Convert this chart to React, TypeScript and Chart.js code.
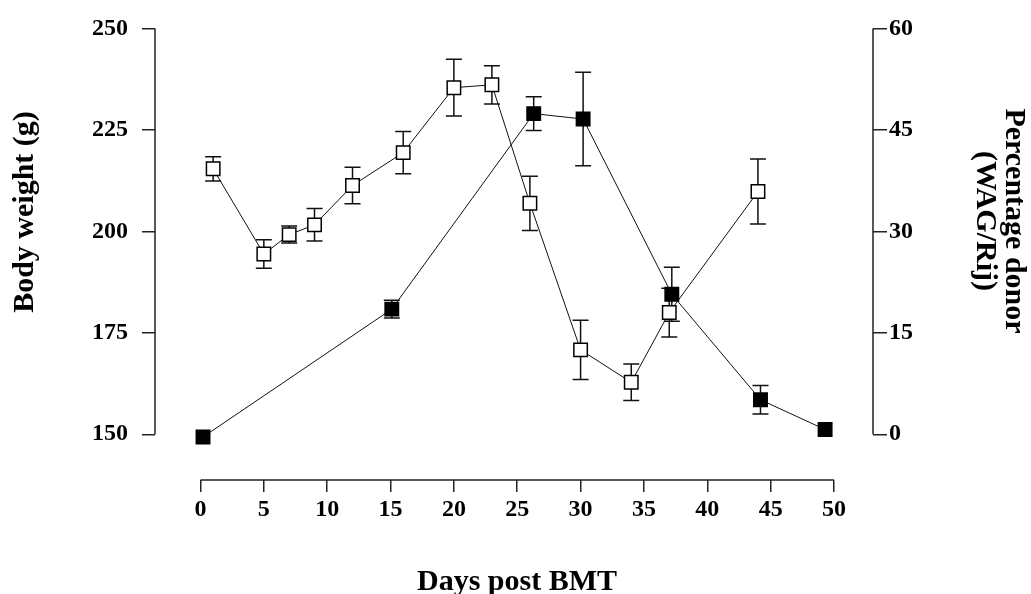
import React, { useEffect, useRef } from 'react';
import { Chart, registerables } from 'chart.js';

Chart.register(...registerables);

// ---- Data ----
const weightDays = [1, 5, 7, 9, 12, 16, 20, 23, 26, 30, 34, 37, 44];
const weightValues = [215.4, 194.4, 199.2, 201.6, 211.3, 219.4, 235.4, 236.1, 206.9, 170.8, 162.8, 180.0, 209.8];
const weightErrors = [3, 3.5, 2.1, 4, 4.5, 5.2, 7, 4.7, 6.7, 7.3, 4.5, 6, 8];

const donorDays = [0.2, 15.1, 26.3, 30.2, 37.2, 44.2, 49.3];
const donorValues = [-0.4, 18.5, 47.4, 46.6, 20.7, 5.1, 0.7];
const donorErrors = [0, 1.3, 2.5, 6.9, 4, 2.1, 0];

const xTicks = [0, 5, 10, 15, 20, 25, 30, 35, 40, 45, 50];
const weightTicks = [150, 175, 200, 225, 250];
const donorTicks = [0, 15, 30, 45, 60];

const xTitle = 'Days post BMT';
const leftTitle = 'Body weight (g)';
const rightTitleLines = ['Percentage donor', '(WAG/Rij)'];

const FONT = '"Liberation Serif", "Times New Roman", serif';
const AXIS_COLOR = '#222';

const customPlugin = {
  id: 'customAxesAndErrors',
  beforeDatasetsDraw(chart: any) {
    const { ctx, chartArea, scales } = chart;
    const x = scales.x;
    const y = scales.y;
    const y1 = scales.y1;
    ctx.save();
    ctx.strokeStyle = AXIS_COLOR;
    ctx.lineWidth = 1.5;
    ctx.beginPath();
    ctx.moveTo(x.getPixelForValue(xTicks[0]), chartArea.bottom);
    ctx.lineTo(x.getPixelForValue(xTicks[xTicks.length - 1]), chartArea.bottom);
    ctx.moveTo(chartArea.left, y.getPixelForValue(weightTicks[0]));
    ctx.lineTo(chartArea.left, y.getPixelForValue(weightTicks[weightTicks.length - 1]));
    ctx.moveTo(chartArea.right, y1.getPixelForValue(donorTicks[0]));
    ctx.lineTo(chartArea.right, y1.getPixelForValue(donorTicks[donorTicks.length - 1]));
    ctx.stroke();

    // error bars
    ctx.strokeStyle = '#111';
    ctx.lineWidth = 1.5;
    const cap = 8;
    const drawErr = (days: number[], vals: number[], errs: number[], sc: any) => {
      ctx.beginPath();
      for (let i = 0; i < days.length; i++) {
        if (!errs[i]) continue;
        const px = x.getPixelForValue(days[i]);
        const top = sc.getPixelForValue(vals[i] + errs[i]);
        const bot = sc.getPixelForValue(vals[i] - errs[i]);
        ctx.moveTo(px, top);
        ctx.lineTo(px, bot);
        ctx.moveTo(px - cap, top);
        ctx.lineTo(px + cap, top);
        ctx.moveTo(px - cap, bot);
        ctx.lineTo(px + cap, bot);
      }
      ctx.stroke();
    };
    drawErr(weightDays, weightValues, weightErrors, y);
    drawErr(donorDays, donorValues, donorErrors, y1);
    ctx.restore();
  },
  afterDraw(chart: any) {
    const { ctx } = chart;
    ctx.save();
    ctx.fillStyle = '#000';
    ctx.font = `bold 30px ${FONT}`;
    ctx.textAlign = 'center';
    ctx.textBaseline = 'alphabetic';
    // x title
    ctx.fillText(xTitle, 517, 590);
    // left title
    ctx.save();
    ctx.translate(33, 212);
    ctx.rotate(-Math.PI / 2);
    ctx.fillText(leftTitle, 0, 0);
    ctx.restore();
    // right title
    const rx = [1006, 977];
    rightTitleLines.forEach((line, i) => {
      ctx.save();
      ctx.translate(rx[i], 221);
      ctx.rotate(Math.PI / 2);
      ctx.fillText(line, 0, 0);
      ctx.restore();
    });
    ctx.restore();
  },
};

export default function App() {
  const ref = useRef<HTMLCanvasElement | null>(null);

  useEffect(() => {
    document.body.style.margin = '0';
    if (!ref.current) return;
    const tickFont = { family: FONT, size: 24, weight: 'bold' as const };
    const chart = new Chart(ref.current, {
      type: 'scatter',
      data: {
        datasets: [
          {
            label: 'Percentage donor',
            data: donorDays.map((d, i) => ({ x: d, y: donorValues[i] })),
            yAxisID: 'y1',
            showLine: true,
            borderColor: '#111',
            borderWidth: 1,
            pointStyle: 'rect',
            pointRadius: 9.5,
            pointBorderWidth: 1.5,
            pointBorderColor: '#000',
            pointBackgroundColor: '#000',
          },
          {
            label: 'Body weight',
            data: weightDays.map((d, i) => ({ x: d, y: weightValues[i] })),
            yAxisID: 'y',
            showLine: true,
            borderColor: '#111',
            borderWidth: 1,
            pointStyle: 'rect',
            pointRadius: 9.5,
            pointBorderWidth: 1.5,
            pointBorderColor: '#000',
            pointBackgroundColor: '#fff',
          },
        ],
      },
      options: {
        animation: false,
        responsive: false,
        layout: { padding: { top: 25.5, left: 0, right: 0, bottom: 0 } },
        plugins: { legend: { display: false }, tooltip: { enabled: false } },
        scales: {
          x: {
            type: 'linear',
            position: 'bottom',
            min: -3.59,
            max: 53.08,
            afterBuildTicks: (s: any) => { s.ticks = xTicks.map((v) => ({ value: v })); },
            afterFit: (s: any) => { s.height = 114; },
            border: { display: false },
            grid: { drawOnChartArea: false, drawTicks: true, tickLength: 12, tickColor: AXIS_COLOR, lineWidth: 1.5 },
            ticks: { autoSkip: false, maxRotation: 0, padding: 3, color: '#000', font: tickFont, callback: (v: any) => String(v) },
          },
          y: {
            type: 'linear',
            position: 'left',
            min: 138.74,
            max: 250,
            afterBuildTicks: (s: any) => { s.ticks = weightTicks.map((v) => ({ value: v })); },
            afterFit: (s: any) => { s.width = 155; },
            border: { display: false },
            grid: { drawOnChartArea: false, drawTicks: true, tickLength: 13, tickColor: AXIS_COLOR, lineWidth: 1.5 },
            ticks: { autoSkip: false, padding: 14, color: '#000', font: tickFont, callback: (v: any) => String(v) },
          },
          y1: {
            type: 'linear',
            position: 'right',
            min: -6.76,
            max: 60,
            afterBuildTicks: (s: any) => { s.ticks = donorTicks.map((v) => ({ value: v })); },
            afterFit: (s: any) => { s.width = 158; },
            border: { display: false },
            grid: { drawOnChartArea: false, drawTicks: true, tickLength: 14, tickColor: AXIS_COLOR, lineWidth: 1.5 },
            ticks: { autoSkip: false, padding: 2, color: '#000', font: tickFont, callback: (v: any) => String(v) },
          },
        },
      },
      plugins: [customPlugin],
    });
    return () => chart.destroy();
  }, []);

  return (
    <div style={{ width: 1031, height: 594, background: '#fff' }}>
      <canvas ref={ref} width={1031} height={594} style={{ display: 'block' }} />
    </div>
  );
}
